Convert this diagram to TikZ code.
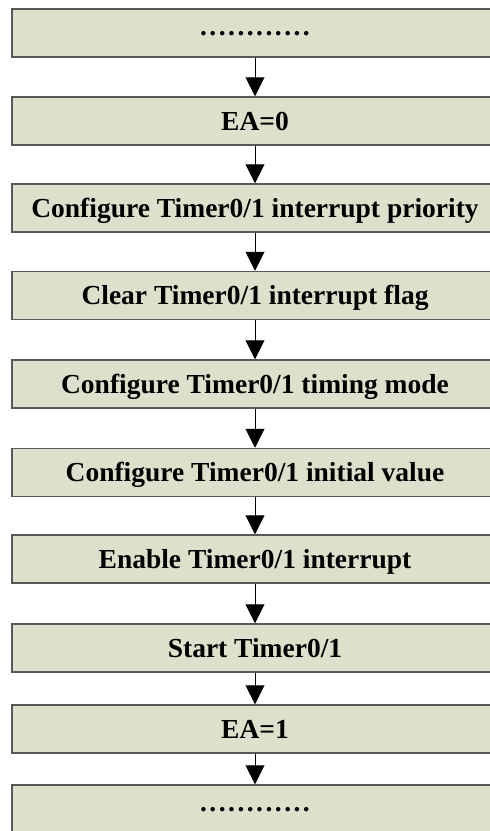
\documentclass[tikz,border=0pt]{standalone}
\usepackage{fontspec}
\setmainfont{Liberation Serif}
\usetikzlibrary{arrows.meta}
\definecolor{boxfill}{RGB}{221,224,203}
\definecolor{boxline}{RGB}{88,88,88}

\begin{document}
\begin{tikzpicture}[x=1pt, y=-1pt,
	stepbox/.style={rectangle, draw=boxline, line width=1.5pt, fill=boxfill, minimum width=486pt, minimum height=48pt, inner sep=0pt, font=\bfseries\fontsize{27.5}{30}\selectfont, text height=18pt, text depth=0pt},
	dotrow/.style={text height=4pt, font=\bfseries\fontsize{27.5}{30}\selectfont\addfontfeature{LetterSpace=9}},
	back/.style={{Triangle[width=19pt,length=19pt]}-, line width=1pt, draw=black}]
\useasboundingbox (0,0) rectangle (490,831);

\node (start) at (255,33) [stepbox, dotrow] {............};
\node (ea0) at (255,121) [stepbox] {EA=0} edge[back] (start);

\node (prio) at (255,208) [stepbox] {Configure Timer0/1 interrupt priority} edge[back] (ea0);
	\node (flag) at (255,295.5) [stepbox] {Clear Timer0/1 interrupt flag} edge[back] (prio);
	\node (mode) at (255,384) [stepbox] {Configure Timer0/1 timing mode} edge[back] (flag);
	\node (init) at (255,472.5) [stepbox] {Configure Timer0/1 initial value} edge[back] (mode);
	\node (en) at (255,559) [stepbox] {Enable Timer0/1 interrupt} edge[back] (init);
	\node (run) at (255,648) [stepbox] {Start Timer0/1} edge[back] (en);

\node (ea1) at (255,729) [stepbox] {EA=1} edge[back] (run);
\node (finish) at (255,809) [stepbox, dotrow] {............} edge[back] (ea1);

\end{tikzpicture}
\end{document}
